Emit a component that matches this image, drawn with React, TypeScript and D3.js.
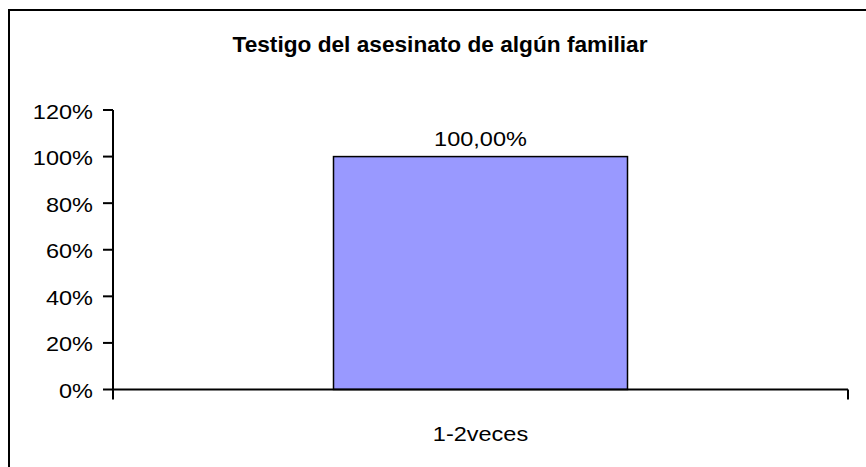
import React from "react";
import * as d3 from "d3";

const categories = ["1-2veces"];
const values = [1.0];
const valueLabels = ["100,00%"];
const yTicks = [0, 0.2, 0.4, 0.6, 0.8, 1.0, 1.2];
const title = "Testigo del asesinato de algún familiar";

export default function App() {
  const W = 866, H = 467;
  const left = 113, right = 848, top = 110, bottom = 389.5;
  const y = d3.scaleLinear().domain([0, 1.2]).range([bottom, top]);
  const x = d3.scaleBand().domain(categories).range([left, right]).paddingInner(0.6).paddingOuter(0.3);
  const fmt = (v: number) => `${Math.round(v * 100)}%`;
  const font = "'Liberation Sans', Arial, sans-serif";
  const sx = 1.12;
  const T = (props: { x: number; y: number; anchor: string; size: number; bold?: boolean; s?: number; children: string }) => (
    <text
      transform={`translate(${props.x},${props.y}) scale(${props.s ?? sx},1)`}
      textAnchor={props.anchor}
      fontSize={props.size}
      fontWeight={props.bold ? "bold" : "normal"}
    >
      {props.children}
    </text>
  );
  return (
    <svg width={W} height={H} style={{ position: "absolute", left: 0, top: 0 }} fontFamily={font}>
      <rect x={0} y={0} width={W} height={H} fill="#fff" />
      <rect x={9} y={10} width={W + 10} height={H + 10} fill="none" stroke="#000" strokeWidth={2} />
      <T x={440} y={52} anchor="middle" size={22} bold s={1.03}>{title}</T>
      {categories.map((c, i) => (
        <g key={c}>
          <rect x={x(c)!} y={y(values[i])} width={x.bandwidth()} height={bottom - y(values[i])}
            fill="#9999ff" stroke="#000" strokeWidth={1.5} />
          <T x={x(c)! + x.bandwidth() / 2} y={y(values[i]) - 11} anchor="middle" size={21}>{valueLabels[i]}</T>
          <T x={x(c)! + x.bandwidth() / 2} y={441} anchor="middle" size={21}>{c}</T>
        </g>
      ))}
      <line x1={left} x2={left} y1={top} y2={bottom + 10} stroke="#000" strokeWidth={2} />
      <line x1={left} x2={right} y1={bottom} y2={bottom} stroke="#000" strokeWidth={2} />
      <line x1={right} x2={right} y1={bottom} y2={bottom + 10} stroke="#000" strokeWidth={2} />
      {yTicks.map((t) => (
        <g key={t}>
          <line x1={left - 10} x2={left} y1={y(t)} y2={y(t)} stroke="#000" strokeWidth={2} />
          <T x={93} y={y(t) + 8.5} anchor="end" size={21}>{fmt(t)}</T>
        </g>
      ))}
    </svg>
  );
}
